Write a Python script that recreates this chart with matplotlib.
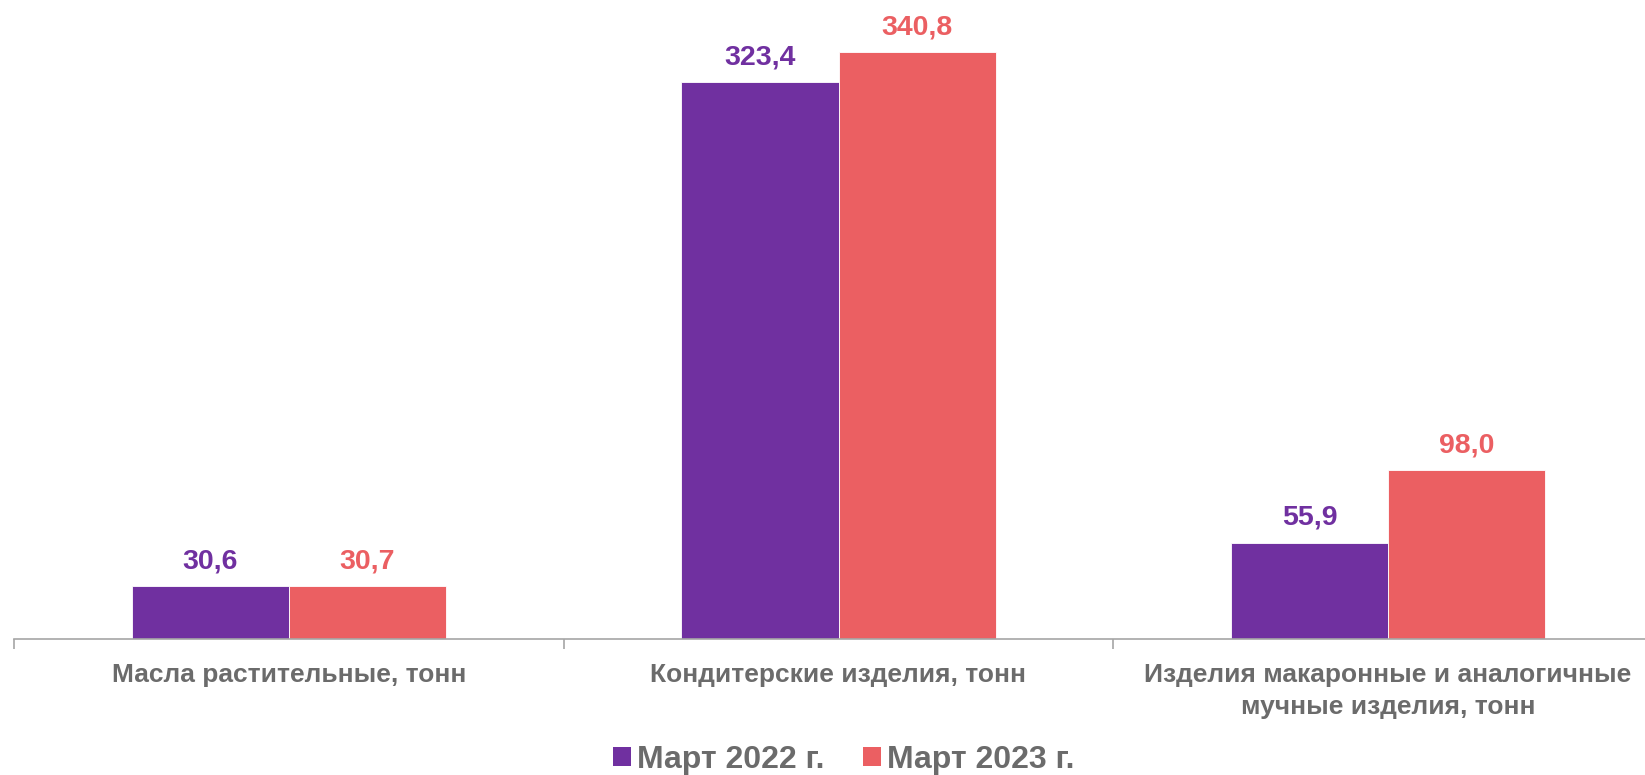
import matplotlib
matplotlib.use("Agg")
import matplotlib.pyplot as plt
from matplotlib.patches import Patch
import numpy as np

categories = ["Масла растительные, тонн",
              "Кондитерские изделия, тонн",
              "Изделия макаронные и аналогичные\nмучные изделия, тонн"]
series_names = ["Март 2022 г.", "Март 2023 г."]
values_2022 = [30.6, 323.4, 55.9]
values_2023 = [30.7, 340.8, 98.0]
value_labels_2022 = ["30,6", "323,4", "55,9"]
value_labels_2023 = ["30,7", "340,8", "98,0"]

purple = "#7030A0"
red = "#EB5F62"
gray_text = "#6B6B6B"
axis_gray = "#A6A6A6"

plt.rcParams['font.family'] = ['Liberation Sans', 'DejaVu Sans']

fig = plt.figure(figsize=(16.45, 7.75), dpi=100)
W, H = 1645, 775
ax = fig.add_axes([14.25 / W, (H - 639) / H, 1648.5 / W, 639 / H])
ax.set_xlim(-0.5, 2.5)
ax.set_ylim(0, 371.3)

x = np.arange(len(categories))
w = 0.286
b1 = ax.bar(x - w / 2, values_2022, w, color=purple, edgecolor="white", linewidth=0.6)
b2 = ax.bar(x + w / 2, values_2023, w, color=red, edgecolor="white", linewidth=0.6)

for bars, labs, col in ((b1, value_labels_2022, purple), (b2, value_labels_2023, red)):
    for rect, lab in zip(bars, labs):
        ax.annotate(lab, (rect.get_x() + rect.get_width() / 2, rect.get_height()),
                    xytext=(0, 13), textcoords="offset points",
                    ha="center", va="baseline", fontsize=20.5, fontweight="bold", color=col)

for s in ("top", "right", "left"):
    ax.spines[s].set_visible(False)
ax.spines["bottom"].set_color(axis_gray)
ax.spines["bottom"].set_linewidth(1.2)
ax.set_yticks([])

ax.set_xticks(x)
ax.set_xticklabels(categories, fontsize=19, fontweight="bold", color=gray_text, linespacing=1.42)
ax.tick_params(axis="x", which="major", length=0, pad=17)
ax.set_xticks([-0.5, 0.5, 1.5, 2.5], minor=True)
ax.tick_params(axis="x", which="minor", length=7, width=1.2, color=axis_gray, direction="out")

handles = [Patch(facecolor=purple, edgecolor="none"), Patch(facecolor=red, edgecolor="none")]
fig.legend(handles, series_names, loc="center", bbox_to_anchor=(844 / W, 1 - 760 / H),
           ncol=2, frameon=False, prop={"family": "Liberation Sans", "weight": "bold", "size": 23},
           labelcolor=gray_text, handlelength=0.55, handleheight=0.55, handletextpad=0.2,
           columnspacing=1.2, borderpad=0, borderaxespad=0)

fig.savefig("out.png", dpi=100)
